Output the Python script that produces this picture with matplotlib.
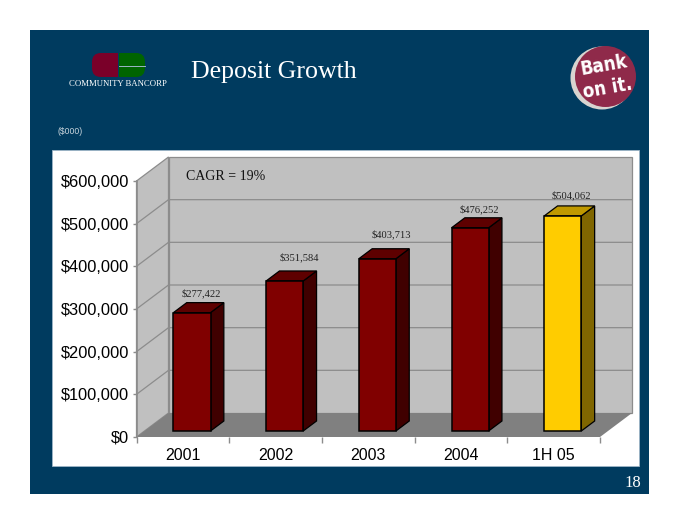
# Deposit Growth slide: fake 3D column chart on a navy slide background
import matplotlib
matplotlib.use("Agg")
import matplotlib.pyplot as plt
from matplotlib.patches import Circle, FancyBboxPatch, Polygon, Rectangle

categories = ["2001", "2002", "2003", "2004", "1H 05"]
deposits = [277422, 351584, 403713, 476252, 504062]
value_labels = ["$277,422", "$351,584", "$403,713", "$476,252", "$504,062"]
y_ticks = [0, 100000, 200000, 300000, 400000, 500000, 600000]

# label placement in pixels, relative to the bar's front top centre
label_dx = [9, 15, 14, 9, 9]
label_dy = [19, 24, 24, 18, 21]

NAVY = "#003B5F"
WALL = "#C0C0C0"
FLOOR = "#808080"
GRID = "#8C8C8C"
# front, top, side colours of the bars
RED_FACES = ("#800000", "#5E0000", "#400000")
YELLOW_FACES = ("#FFCC00", "#C09900", "#806600")

W, H = 680, 525
fig = plt.figure(figsize=(W / 100, H / 100), dpi=100, facecolor="white")

# slide decoration, in pixel coordinates
bg = fig.add_axes([0, 0, 1, 1], zorder=0)
bg.set_xlim(0, W)
bg.set_ylim(H, 0)
bg.axis("off")
bg.add_patch(Rectangle((30, 30), 619, 464, fc=NAVY, ec="none"))
bg.add_patch(Rectangle((52, 150), 587, 316, fc="white", ec="#9DB6C8", lw=0.6))

# logo: one pill shape cut in two halves
for colour, clip_x, clip_w in [("#7A0029", 92, 26), ("#006400", 118.7, 27)]:
    pill = FancyBboxPatch((100, 61), 37, 8, boxstyle="round,pad=8,rounding_size=9",
                          fc=colour, ec="none")
    bg.add_patch(pill)
    pill.set_clip_path(Rectangle((clip_x, 50), clip_w, 30, transform=bg.transData))
bg.plot([119, 145], [65.5, 65.5], color="#9DB6C8", lw=0.7)
bg.text(118, 84, "COMMUNITY BANCORP", color="white", ha="center", va="center",
        fontsize=6.3, family="Liberation Serif")

bg.text(191, 72, "Deposit Growth", color="white", ha="left", va="center",
        fontsize=18.6, family="Liberation Serif")
bg.text(58, 132, "($000)", color="#C8D4DC", ha="left", va="center",
        fontsize=6.2, family="Liberation Sans")
bg.text(641, 483, "18", color="white", ha="right", va="center",
        fontsize=12, family="Liberation Serif")

# Bank on it badge
bg.add_patch(Circle((602, 78), 31.5, fc="#D8D4D0", ec="none"))
bg.add_patch(Circle((605.5, 76.5), 30.5, fc="#8F2A4A", ec="none"))
bg.text(604, 65, "Bank", color="white", ha="center", va="center", rotation=10,
        fontsize=13.5, fontweight="bold", stretch="condensed", family="DejaVu Sans")
bg.text(608, 88, "on it.", color="white", ha="center", va="center", rotation=10,
        fontsize=13.5, fontweight="bold", stretch="condensed", family="DejaVu Sans")

# chart axes cover the front plane of the 3D box, depth is sheared on top of it
left, right, top, bottom = 136.5, 600, 181, 437
ax = fig.add_axes([left / W, 1 - bottom / H, (right - left) / W, (bottom - top) / H], zorder=1)
ax.patch.set_alpha(0)
ax.set_xlim(0, len(categories))
ax.set_ylim(0, 600000)

px_x = len(categories) / (right - left)
px_y = 600000 / (bottom - top)
shift_x = 32 * px_x
shift_y = 24 * px_y


def project(x, v, depth):
    return (x + depth * shift_x, v + depth * shift_y)


def face(points, color, edge=None, lw=0.0, z=2):
    ax.add_patch(Polygon([project(*p) for p in points], closed=True, fc=color,
                         ec=edge if edge else "none", lw=lw, zorder=z, clip_on=False))


n = len(categories)
# side wall, back wall, floor
face([(0, 0, 0), (0, 600000, 0), (0, 600000, 1), (0, 0, 1)], WALL, GRID, 0.9, 1)
face([(0, 0, 1), (0, 600000, 1), (n, 600000, 1), (n, 0, 1)], WALL, GRID, 0.9, 1)
face([(0, 0, 0), (0, 0, 1), (n, 0, 1), (n, 0, 0)], FLOOR, None, 0, 1)

for v in y_ticks[1:-1]:
    xs, ys = zip(project(0, v, 0), project(0, v, 1), project(n, v, 1))
    ax.plot(xs, ys, color=GRID, lw=0.9, zorder=1.5, clip_on=False)

# bars: front plane sits a quarter of the way into the box
bar_half = 0.2
bar_nudge = 0.012
d0, d1 = 0.25, 0.667
for i, val in enumerate(deposits):
    front, top_c, side = YELLOW_FACES if i == n - 1 else RED_FACES
    x0, x1 = i + 0.5 + bar_nudge - bar_half, i + 0.5 + bar_nudge + bar_half
    face([(x1, 0, d0), (x1, val, d0), (x1, val, d1), (x1, 0, d1)], side, "black", 0.9, 3)
    face([(x0, val, d0), (x0, val, d1), (x1, val, d1), (x1, val, d0)], top_c, "black", 0.9, 3)
    face([(x0, 0, d0), (x0, val, d0), (x1, val, d0), (x1, 0, d0)], front, "black", 1.1, 3)
    ax.annotate(value_labels[i], project(i + 0.5 + bar_nudge, val, d0),
                xytext=(label_dx[i] * 0.72, label_dy[i] * 0.72),
                textcoords="offset points", ha="center", va="center", fontsize=7.6,
                family="Liberation Serif", color="#222222", zorder=4)

ax.text(186, 176, "CAGR = 19%", color="#111111", ha="left", va="center", fontsize=10,
        family="Liberation Serif", zorder=5, transform=bg.transData, clip_on=False)

for name in ["top", "right", "bottom"]:
    ax.spines[name].set_visible(False)
ax.spines["left"].set_color(GRID)
ax.spines["left"].set_linewidth(1.2)

ax.set_yticks(y_ticks)
ax.set_yticklabels(["${:,}".format(v) for v in y_ticks], fontsize=11.8, family="Liberation Sans")
ax.set_xticks(range(n + 1))
ax.set_xticklabels([""] * (n + 1))
ax.set_xticks([i + 0.5 for i in range(n)], minor=True)
ax.set_xticklabels(categories, minor=True, fontsize=11.5, family="Liberation Sans")
ax.tick_params(axis="y", length=3, width=1, color=GRID, pad=2.5)
ax.tick_params(axis="x", which="major", length=4, width=1, color=GRID)
ax.tick_params(axis="x", which="minor", length=0, pad=8)

fig.savefig("out.png", dpi=100)
